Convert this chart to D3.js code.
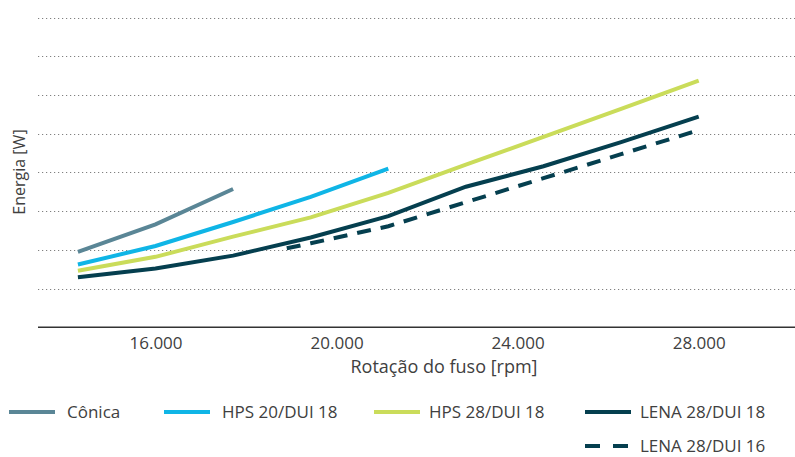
<!DOCTYPE html>
<html>
<head>
<meta charset="utf-8">
<script src="https://cdn.jsdelivr.net/npm/d3@7"></script>
<style>
  html, body { margin: 0; padding: 0; background: #fff; }
  svg { display: block; }
  text { font-family: "Open Sans", "Noto Sans", sans-serif; fill: #404040; }
</style>
</head>
<body>
<svg id="chart" width="795" height="457"></svg>
<script>
// ---- data ----
const rpm = [14286, 16000, 17714, 19429, 21143, 22857, 24571, 26286, 28000];
const conica = [1.95, 2.66, 3.57];
const hps20 = [1.62, 2.10, 2.72, 3.37, 4.10];
const hps28 = [1.46, 1.82, 2.34, 2.84, 3.47, 4.20, 4.92, 5.64, 6.37];
const lena18 = [1.29, 1.52, 1.85, 2.32, 2.87, 3.63, 4.16, 4.78, 5.44];
const lena16Rpm = [18900, 19429, 21143, 22857, 24571, 26286, 28000];
const lena16 = [2.04, 2.17, 2.61, 3.23, 3.85, 4.47, 5.09];
const xTicks = [16000, 20000, 24000, 28000];
const gridValues = [1, 2, 3, 4, 5, 6, 7, 8];
const seriesNames = ["Cônica", "HPS 20/DUI 18", "HPS 28/DUI 18", "LENA 28/DUI 18", "LENA 28/DUI 16"];

const series = [
  { name: seriesNames[0], xs: rpm.slice(0, conica.length), ys: conica, color: "#5a8696", dash: null },
  { name: seriesNames[1], xs: rpm.slice(0, hps20.length), ys: hps20, color: "#0fb5e6", dash: null },
  { name: seriesNames[2], xs: rpm, ys: hps28, color: "#cadc5a", dash: null },
  { name: seriesNames[3], xs: rpm, ys: lena18, color: "#053f4f", dash: null },
  { name: seriesNames[4], xs: lena16Rpm, ys: lena16, color: "#053f4f", dash: "14,10" }
];

const svg = d3.select("#chart");
const x = d3.scaleLinear().domain([16000, 28000]).range([155.5, 698.7]);
const y = d3.scaleLinear().domain([0, 8]).range([327.3, 17.5]);
const plotLeft = 38, plotRight = 795;

// gridlines
svg.append("g").selectAll("line").data(gridValues).join("line")
  .attr("x1", plotLeft).attr("x2", plotRight)
  .attr("y1", d => Math.round(y(d)) + 0.5).attr("y2", d => Math.round(y(d)) + 0.5)
  .attr("stroke", "#808080").attr("stroke-width", 1.2)
  .attr("stroke-dasharray", "1.2,2.8");

// x axis
const xAxis = d3.axisBottom(x).tickValues(xTicks).tickSize(0).tickPadding(10)
  .tickFormat(d => d3.format(",")(d).replace(/,/g, "."));
const gx = svg.append("g").attr("transform", `translate(0,${y(0)})`).call(xAxis);
gx.select(".domain").remove();
gx.selectAll("text").style("font-size", "17px").style("fill", "#404040")
  .style("font-family", '"Open Sans", sans-serif');
svg.append("line").attr("x1", plotLeft).attr("x2", plotRight)
  .attr("y1", y(0)).attr("y2", y(0)).attr("stroke", "#333").attr("stroke-width", 1.4);

// axis titles
svg.append("text").attr("x", 444).attr("y", 373).attr("text-anchor", "middle")
  .style("font-size", "18px").text("Rotação do fuso [rpm]");
svg.append("text").attr("transform", "translate(25,172) rotate(-90)")
  .attr("text-anchor", "middle").style("font-size", "16px").text("Energia [W]");

// lines
const line = d3.line().x(d => x(d[0])).y(d => y(d[1]));
svg.append("g").selectAll("path").data(series).join("path")
  .attr("d", s => line(s.xs.map((v, i) => [v, s.ys[i]])))
  .attr("fill", "none").attr("stroke", s => s.color).attr("stroke-width", 4)
  .attr("stroke-dasharray", s => s.dash);

// legend
const legendPos = [
  { x: 9, y: 412 }, { x: 164, y: 412 }, { x: 374, y: 412 }, { x: 585, y: 412 }, { x: 585, y: 446 }
];
const lg = svg.append("g").selectAll("g").data(series).join("g")
  .attr("transform", (s, i) => `translate(${legendPos[i].x},${legendPos[i].y})`);
lg.append("line").attr("x1", 0).attr("x2", s => s.dash ? 43 : 46).attr("y1", 0).attr("y2", 0)
  .attr("stroke", s => s.color).attr("stroke-width", 4)
  .attr("stroke-dasharray", s => s.dash ? "15,13" : null);
lg.append("text").attr("x", (s, i) => i < 2 ? 58 : 55).attr("y", 6)
  .style("font-size", "17px").text(s => s.name);
</script>
</body>
</html>
